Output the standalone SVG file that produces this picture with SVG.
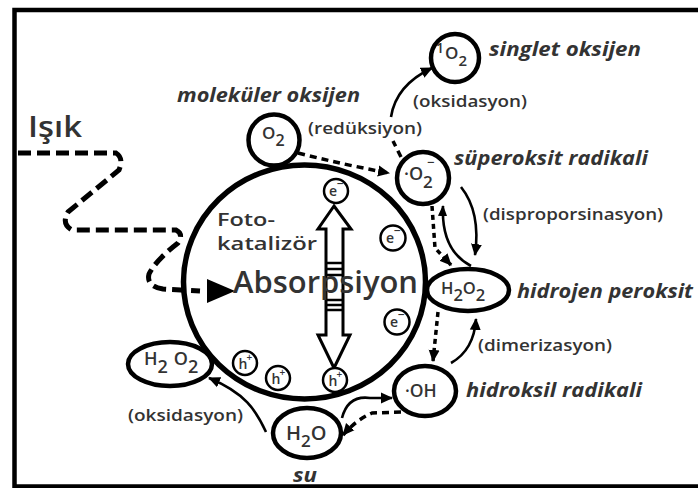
<svg xmlns="http://www.w3.org/2000/svg" width="698" height="488" viewBox="0 0 698 488">
<defs>
<marker id="ah" markerUnits="userSpaceOnUse" markerWidth="12" markerHeight="12" viewBox="0 0 12 12" refX="11" refY="6" orient="auto">
<path d="M0,0.5 L12,6 L0,11.5 Z" fill="#000"/>
</marker>
<marker id="ahs" markerUnits="userSpaceOnUse" markerWidth="11" markerHeight="11" viewBox="0 0 12 12" refX="11" refY="6" orient="auto">
<path d="M0,1 L12,6 L0,11 Z" fill="#000"/>
</marker>
</defs>
<style>
.lbl{font-family:"Open Sans","Liberation Sans",sans-serif;font-weight:600;fill:#333;font-size:15.5px}
.it{font-family:"Open Sans","Liberation Sans",sans-serif;font-weight:700;font-style:italic;fill:#333;font-size:19.5px}
.chem{font-family:"Open Sans","Liberation Sans",sans-serif;font-weight:600;fill:#333}
.node{fill:#fff;stroke:#000;stroke-width:4.5}
.small{fill:#fff;stroke:#000;stroke-width:2.5}
.solid{fill:none;stroke:#000;stroke-width:2.6}
.dash{fill:none;stroke:#000;stroke-width:3.5;stroke-dasharray:7 5}
.dot{fill:none;stroke:#000;stroke-width:3.5;stroke-dasharray:5 4}
.light{fill:none;stroke:#000;stroke-width:5;stroke-dasharray:13 6}
</style>
<rect x="0" y="0" width="698" height="488" fill="#fff"/>
<rect x="14.5" y="10" width="700" height="476.5" fill="none" stroke="#000" stroke-width="4.5"/>

<text class="chem" x="28" y="137" font-size="28" font-weight="700" textLength="54" lengthAdjust="spacingAndGlyphs">Işık</text>

<g id="fotokatalizor">
<ellipse cx="304.5" cy="282" rx="121" ry="117" fill="#fff" stroke="#000" stroke-width="5.5"/>
<text class="chem" font-size="17.5"><tspan x="217" y="226" textLength="58" lengthAdjust="spacingAndGlyphs">Foto-</tspan><tspan x="217" y="250" textLength="100" lengthAdjust="spacingAndGlyphs">katalizör</tspan></text>
</g>

<g id="light">
<path class="light" d="M18,153 L116,153 Q124,158 119,170 L68,212 Q61,224 72,230 L176,230 Q184,234 178,243 Q156,260 149,274 Q146,286 163,289 L200,291"/>
<path d="M207,279 L235,291 L207,303 Z" fill="#000"/>
</g>

<g id="band-arrow">
<path d="M334,206 L351,229 L343,229 L343,335 L350,335 L334,368 L318,335 L326,335 L326,229 L318,229 Z" fill="#fff" stroke="#000" stroke-width="3"/>
<g stroke="#000" stroke-width="2.5">
<line x1="326" y1="263" x2="343" y2="263"/><line x1="326" y1="269" x2="343" y2="269"/><line x1="326" y1="275" x2="343" y2="275"/>
<line x1="326" y1="300" x2="343" y2="300"/><line x1="326" y1="305" x2="343" y2="305"/><line x1="326" y1="310" x2="343" y2="310"/>
</g>
</g>
<text class="chem" x="233" y="293" font-size="31" textLength="185" lengthAdjust="spacingAndGlyphs">Absorpsiyon</text>

<g id="e1"><circle class="small" cx="336" cy="191" r="12"/><text class="chem" x="329" y="196" font-size="14">e<tspan font-size="12" dy="-8">−</tspan></text></g>
<g id="e2"><circle class="small" cx="393" cy="238" r="12.5"/><text class="chem" x="386" y="243" font-size="14">e<tspan font-size="12" dy="-8">−</tspan></text></g>
<g id="e3"><circle class="small" cx="397" cy="322" r="12.5"/><text class="chem" x="390" y="327" font-size="14">e<tspan font-size="12" dy="-8">−</tspan></text></g>
<g id="h1"><circle class="small" cx="245" cy="363" r="12"/><text class="chem" x="238.5" y="369" font-size="14">h<tspan font-size="10" dx="-1" dy="-8">+</tspan></text></g>
<g id="h2"><circle class="small" cx="278" cy="378" r="12"/><text class="chem" x="271.5" y="384" font-size="14">h<tspan font-size="10" dx="-1" dy="-8">+</tspan></text></g>
<g id="h3"><circle class="small" cx="335" cy="380" r="12"/><text class="chem" x="328.5" y="386" font-size="14">h<tspan font-size="10" dx="-1" dy="-8">+</tspan></text></g>

<g id="connectors">
<path class="dash" d="M298,153 Q345,165 389,173" marker-end="url(#ah)"/>
<path class="dash" d="M401,157 L393,141"/>
<path class="solid" d="M391,117 Q396,85 432,68" marker-end="url(#ah)"/>
<path class="solid" d="M461,187 Q481,212 475,255" marker-end="url(#ah)"/>
<path class="solid" d="M471,266 Q441,250 443,206" marker-end="url(#ahs)"/>
<path class="dot" d="M432,206 L435,248 L451,265" marker-end="url(#ah)"/>
<path class="dot" d="M438,312 L433,361" marker-end="url(#ah)"/>
<path class="solid" d="M451,363 Q474,350 476,319" marker-end="url(#ah)"/>
<path class="solid" d="M342,418 Q348,395 370,398 L392,398" marker-end="url(#ah)"/>
<path class="dash" d="M401,412 L372,413 Q356,420 343,435" marker-end="url(#ah)"/>
<path class="solid" d="M266,432 C256,410 245,393 209,378" marker-end="url(#ah)"/>
</g>

<g id="o2">
<circle class="node" cx="274" cy="140" r="25.5"/>
<text class="chem" x="262" y="139" font-size="17">O<tspan font-size="16" dy="7">2</tspan></text>
</g>
<text class="it" x="177" y="102" textLength="183" lengthAdjust="spacingAndGlyphs">moleküler oksijen</text>
<rect x="306" y="119" width="117" height="20" fill="#fff"/>
<text class="lbl" x="308" y="134" textLength="114" lengthAdjust="spacingAndGlyphs">(redüksiyon)</text>

<g id="singlet">
<circle class="node" cx="455" cy="58" r="24"/>
<text class="chem" x="436" y="53" font-size="14">1</text>
<text class="chem" x="445" y="59" font-size="17">O<tspan font-size="15" dy="7">2</tspan></text>
</g>
<text class="it" x="489" y="56" textLength="152" lengthAdjust="spacingAndGlyphs">singlet oksijen</text>
<text class="lbl" x="413" y="107" textLength="114" lengthAdjust="spacingAndGlyphs">(oksidasyon)</text>

<g id="superoksit">
<circle class="node" cx="423" cy="178" r="26"/>
<text class="chem" x="404" y="180" font-size="18">·O<tspan font-size="17" dy="8">2</tspan></text>
<text class="chem" x="427" y="167" font-size="13">−</text>
</g>
<text class="it" x="454" y="165" textLength="194" lengthAdjust="spacingAndGlyphs">süperoksit radikali</text>
<text class="lbl" x="483" y="220" textLength="180" lengthAdjust="spacingAndGlyphs">(disproporsinasyon)</text>

<g id="h2o2-r">
<ellipse class="node" cx="468" cy="290" rx="41" ry="21"/>
<text class="chem" x="441" y="294" font-size="16.5">H<tspan dy="7">2</tspan><tspan dy="-7">O</tspan><tspan dy="7">2</tspan></text>
</g>
<text class="it" x="517" y="298" textLength="176" lengthAdjust="spacingAndGlyphs">hidrojen peroksit</text>
<text class="lbl" x="478" y="351" textLength="134" lengthAdjust="spacingAndGlyphs">(dimerizasyon)</text>

<g id="oh">
<ellipse class="node" cx="425" cy="391" rx="31" ry="25"/>
<text class="chem" x="405" y="397" font-size="17.5">·OH</text>
</g>
<text class="it" x="466" y="397" textLength="176" lengthAdjust="spacingAndGlyphs">hidroksil radikali</text>

<g id="h2o">
<ellipse class="node" cx="307" cy="433" rx="34" ry="25"/>
<text class="chem" x="286" y="440" font-size="20">H<tspan font-size="17" dy="7">2</tspan><tspan dy="-7">O</tspan></text>
</g>
<text class="it" x="293" y="482" textLength="24" lengthAdjust="spacingAndGlyphs">su</text>

<g id="h2o2-l">
<ellipse class="node" cx="170" cy="364" rx="42" ry="22"/>
<text class="chem" x="144" y="365" font-size="18">H<tspan dy="8">2</tspan><tspan dx="6" dy="-8">O</tspan><tspan dy="8">2</tspan></text>
</g>
<text class="lbl" x="128" y="421" textLength="115" lengthAdjust="spacingAndGlyphs">(oksidasyon)</text>
</svg>
